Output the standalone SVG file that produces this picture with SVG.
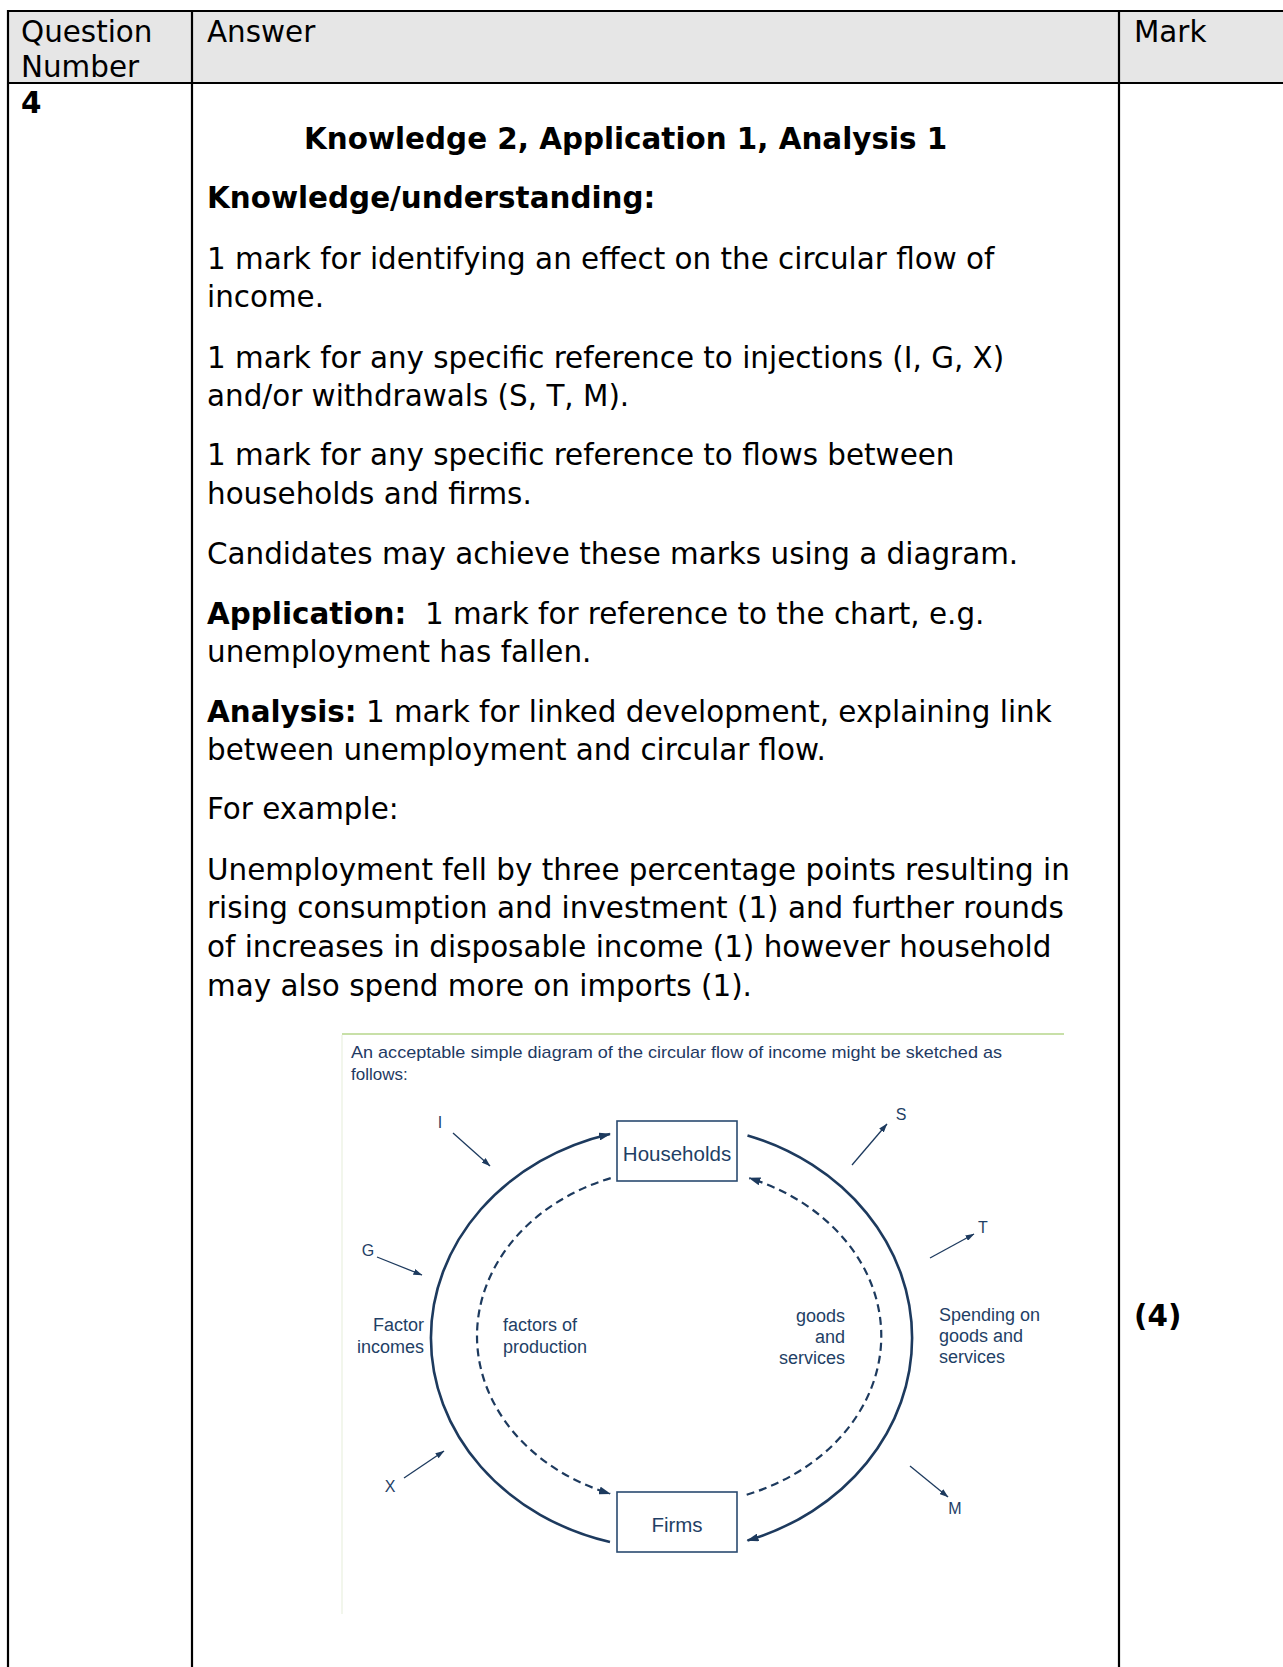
<svg xmlns="http://www.w3.org/2000/svg" width="1283" height="1667" viewBox="0 0 1283 1667">
<defs>
<style>
.t{font-family:"DejaVu Sans",Verdana,sans-serif;font-size:29.4px;fill:#000}
.b{font-weight:bold}
.tl{stroke:#000;stroke-width:2.2;fill:none}
.d{font-family:"Liberation Sans",Arial,sans-serif;fill:#1f3f66}
.lab{font-size:18px}
.io{font-size:16px}
.cap{font-size:17px;fill:#1f3a63}
.arc{fill:none;stroke:#1d3a5e;stroke-width:2.6}
.dash{fill:none;stroke:#1d3a5e;stroke-width:2.2;stroke-dasharray:8 5}
.io-ln{fill:none;stroke:#1d3a5e;stroke-width:1.3}
.box{fill:#fff;stroke:#2a4a70;stroke-width:1.6}
</style>
<marker id="ah" viewBox="0 0 12 8" refX="11" refY="4" markerWidth="12" markerHeight="8" markerUnits="userSpaceOnUse" orient="auto"><path d="M0,0 L12,4 L0,8 z" fill="#1d3a5e"/></marker>
<marker id="ahs" viewBox="0 0 9 6" refX="8.5" refY="3" markerWidth="9" markerHeight="6" markerUnits="userSpaceOnUse" orient="auto"><path d="M0,0 L9,3 L0,6 z" fill="#1d3a5e"/></marker>
</defs>
<rect width="1283" height="1667" fill="#fff"/>
<g id="table">
<rect x="8" y="11" width="1275" height="72" fill="#e6e6e6"/>
<line class="tl" x1="7" y1="11" x2="1283" y2="11"/>
<line class="tl" x1="7" y1="83" x2="1283" y2="83"/>
<line class="tl" x1="8" y1="10" x2="8" y2="1667"/>
<line class="tl" x1="192" y1="10" x2="192" y2="1667"/>
<line class="tl" x1="1119" y1="10" x2="1119" y2="1667"/>
<text class="t" x="21" y="41.5">Question</text>
<text class="t" x="21" y="77">Number</text>
<text class="t" x="207" y="41.5">Answer</text>
<text class="t" x="1134" y="41.5">Mark</text>
<text class="t b" x="21" y="113">4</text>
<text class="t b" x="1134" y="1326">(4)</text>
</g>
<g id="answer-text">
<text class="t b" x="304" y="148.5">Knowledge 2, Application 1, Analysis 1</text>
<text class="t b" x="207" y="208">Knowledge/understanding:</text>
<text class="t" x="207" y="268.5">1 mark for identifying an effect on the circular flow of</text>
<text class="t" x="207" y="307">income.</text>
<text class="t" x="207" y="367.5">1 mark for any specific reference to injections (I, G, X)</text>
<text class="t" x="207" y="406">and/or withdrawals (S, T, M).</text>
<text class="t" x="207" y="465">1 mark for any specific reference to flows between</text>
<text class="t" x="207" y="504">households and firms.</text>
<text class="t" x="207" y="564">Candidates may achieve these marks using a diagram.</text>
<text class="t" x="207" y="623.5" xml:space="preserve"><tspan class="b">Application:</tspan>  1 mark for reference to the chart, e.g.</text>
<text class="t" x="207" y="662">unemployment has fallen.</text>
<text class="t" x="207" y="721.5" xml:space="preserve"><tspan class="b">Analysis:</tspan> 1 mark for linked development, explaining link</text>
<text class="t" x="207" y="760">between unemployment and circular flow.</text>
<text class="t" x="207" y="819">For example:</text>
<text class="t" x="207" y="880">Unemployment fell by three percentage points resulting in</text>
<text class="t" x="207" y="918">rising consumption and investment (1) and further rounds</text>
<text class="t" x="207" y="956.5">of increases in disposable income (1) however household</text>
<text class="t" x="207" y="995.5">may also spend more on imports (1).</text>
</g>
<g id="figure-frame">
<line x1="342" y1="1034" x2="1064" y2="1034" stroke="#c8e0a8" stroke-width="2"/>
<line x1="342" y1="1035" x2="342" y2="1614" stroke="#eef3e6" stroke-width="1.5"/>
<text class="d cap" x="351" y="1058" textLength="651" lengthAdjust="spacingAndGlyphs">An acceptable simple diagram of the circular flow of income might be sketched as</text>
<text class="d cap" x="351" y="1080">follows:</text>
</g>
<g id="connectors">
<path class="arc" d="M 610 1542 A 240.5 211 0 0 1 610 1134" marker-end="url(#ah)"/>
<path class="arc" d="M 747.5 1135.5 A 240 213.3 0 0 1 747.5 1540.5" marker-end="url(#ah)"/>
<path class="dash" d="M 610.7 1178.1 A 203 168 0 0 0 610 1493.7" marker-end="url(#ah)"/>
<path class="dash" d="M 746.7 1494.7 A 205 169 0 0 0 749.4 1178.1" marker-end="url(#ah)"/>
<line class="io-ln" x1="453" y1="1133" x2="490" y2="1166" marker-end="url(#ahs)"/>
<line class="io-ln" x1="852" y1="1165" x2="887" y2="1124" marker-end="url(#ahs)"/>
<line class="io-ln" x1="377" y1="1257" x2="422" y2="1275" marker-end="url(#ahs)"/>
<line class="io-ln" x1="930" y1="1258" x2="974" y2="1234" marker-end="url(#ahs)"/>
<line class="io-ln" x1="404" y1="1478" x2="444" y2="1451" marker-end="url(#ahs)"/>
<line class="io-ln" x1="910" y1="1466" x2="948" y2="1497" marker-end="url(#ahs)"/>
</g>
<g id="households">
<rect class="box" x="617" y="1121" width="120" height="60"/>
<text class="d" x="677" y="1161" font-size="20.5" text-anchor="middle">Households</text>
</g>
<g id="firms">
<rect class="box" x="617" y="1492" width="120" height="60"/>
<text class="d" x="677" y="1532" font-size="20.5" text-anchor="middle">Firms</text>
</g>
<g id="labels">
<text class="d io" x="440" y="1128" text-anchor="middle">I</text>
<text class="d io" x="901" y="1120" text-anchor="middle">S</text>
<text class="d io" x="368" y="1256" text-anchor="middle">G</text>
<text class="d io" x="983" y="1233" text-anchor="middle">T</text>
<text class="d io" x="390" y="1492" text-anchor="middle">X</text>
<text class="d io" x="955" y="1514" text-anchor="middle">M</text>
<text class="d lab" x="424" y="1331" text-anchor="end">Factor</text>
<text class="d lab" x="424" y="1353" text-anchor="end">incomes</text>
<text class="d lab" x="503" y="1331">factors of</text>
<text class="d lab" x="503" y="1353">production</text>
<text class="d lab" x="845" y="1322" text-anchor="end">goods</text>
<text class="d lab" x="845" y="1343" text-anchor="end">and</text>
<text class="d lab" x="845" y="1364" text-anchor="end">services</text>
<text class="d lab" x="939" y="1321" text-anchor="start">Spending on</text>
<text class="d lab" x="939" y="1342">goods and</text>
<text class="d lab" x="939" y="1363">services</text>
</g>
</svg>
